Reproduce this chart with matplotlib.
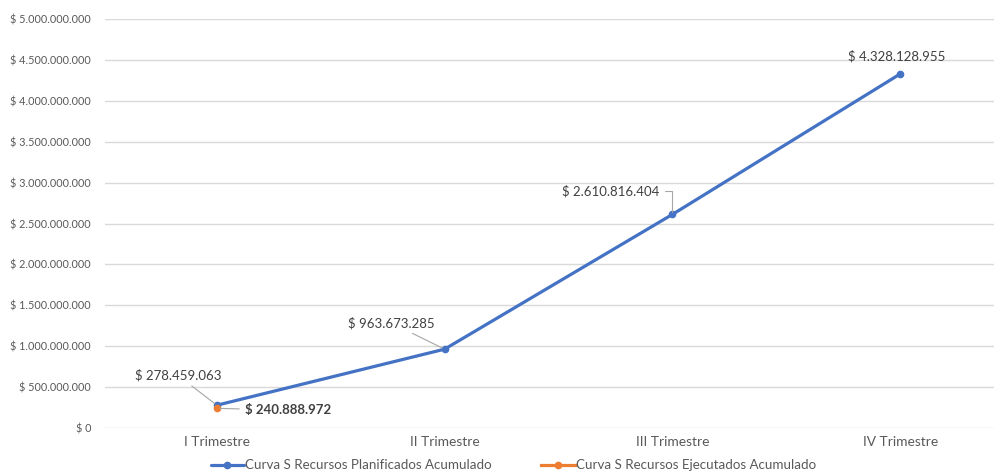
import matplotlib
matplotlib.use("Agg")
import matplotlib.pyplot as plt
from matplotlib.ticker import FuncFormatter

categories = ["I Trimestre", "II Trimestre", "III Trimestre", "IV Trimestre"]
planificado = [278459063, 963673285, 2610816404, 4328128955]
ejecutado = [240888972]

serie_plan = "Curva S Recursos Planificados Acumulado"
serie_ejec = "Curva S Recursos Ejecutados Acumulado"

BLUE = "#4472C4"
ORANGE = "#ED7D31"
TEXT = "#404040"
TICK = "#595959"
GRID = "#D9D9D9"

plt.rcParams["font.family"] = ["Lato", "DejaVu Sans"]


def pesos(v):
    return "$ " + f"{int(round(v)):,}".replace(",", ".")


fig = plt.figure(figsize=(9.94, 4.72), dpi=100)
ax = fig.add_axes([105 / 994, 44 / 472, 889 / 994, 409 / 472])

x_plan = list(range(len(planificado)))
x_ejec = list(range(len(ejecutado)))

ax.plot(x_plan, planificado, color=BLUE, lw=2.3, marker="o", ms=4.5,
        label=serie_plan, zorder=3, solid_capstyle="round")
ax.plot(x_ejec, ejecutado, color=ORANGE, lw=2.3, marker="o", ms=4.5,
        label=serie_ejec, zorder=4)

ax.set_ylim(0, 5_000_000_000)
ax.set_yticks([i * 500_000_000 for i in range(11)])
ax.yaxis.set_major_formatter(FuncFormatter(lambda v, p: pesos(v)))
ax.set_xlim(-0.491, 3.412)
ax.set_xticks(x_plan)
ax.set_xticklabels(categories)

ax.grid(axis="y", color=GRID, lw=1)
ax.set_axisbelow(True)
for s in ax.spines.values():
    s.set_visible(False)
ax.tick_params(axis="both", length=0, colors=TICK)
ax.tick_params(axis="y", labelsize=7.8, pad=10)
ax.tick_params(axis="x", labelsize=9.9, pad=6)

lead = dict(arrowstyle="-", color="#A6A6A6", lw=0.8, shrinkA=2, shrinkB=2)

# etiquetas de datos de la serie planificada
offsets = [(-39, 30), (-53, 26), (-62, 23), (-3, 18)]
for i, (v, off) in enumerate(zip(planificado, offsets)):
    props = None
    if i in (0, 1):
        props = lead
    elif i == 2:
        props = dict(lead, connectionstyle="angle,angleA=0,angleB=90,rad=0")
    ax.annotate(pesos(v), xy=(x_plan[i], v), xytext=off,
                textcoords="offset pixels", ha="center", va="center",
                fontsize=9.5, color=TEXT, arrowprops=props, zorder=5)

# etiqueta de la serie ejecutada
ax.annotate(pesos(ejecutado[0]), xy=(x_ejec[0], ejecutado[0]), xytext=(28, -2),
            textcoords="offset pixels", ha="left", va="center",
            fontsize=9.5, fontweight="bold", color=TEXT,
            arrowprops=lead, zorder=5)

fig.legend(loc="center", bbox_to_anchor=(0.5166, 0.014), ncol=2,
           frameon=False, fontsize=9.6, handlelength=2.5, columnspacing=3.7,
           handletextpad=0.1, labelcolor=TICK)

fig.savefig("out.png", dpi=100)
